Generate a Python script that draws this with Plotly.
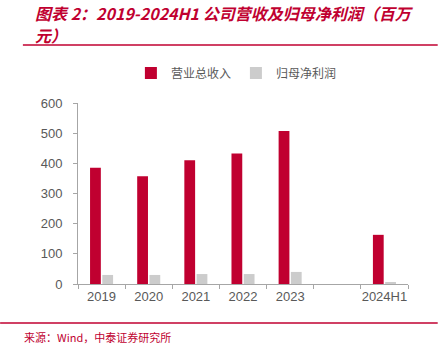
import plotly.graph_objects as go

categories = ["2019", "2020", "2021", "2022", "2023", " ", "2024H1"]
revenue = [385, 357, 410, 433, 507, None, 163]
net_profit = [30, 30, 33, 33, 40, None, 5]
yticks = [0, 100, 200, 300, 400, 500, 600]

RED = "#C00030"
GRAY = "#CCCCCC"
TXT = "#595959"
CJK = "Noto Sans CJK SC"

fig = go.Figure()
fig.add_trace(go.Bar(x=categories, y=revenue, name="营业总收入", marker_color=RED, marker_line_width=0))
fig.add_trace(go.Bar(x=categories, y=net_profit, name="归母净利润", marker_color=GRAY, marker_line_width=0))

fig.update_layout(
    width=440, height=353,
    margin=dict(l=78, r=32, t=103, b=69),
    paper_bgcolor="white", plot_bgcolor="white",
    barmode="group", bargap=0.48, bargroupgap=0.12,
    font=dict(family="Liberation Sans, Arial", size=12, color=TXT),
    showlegend=True,
    legend=dict(orientation="h", x=0.48, xanchor="center", y=1.166, yanchor="middle",
                font=dict(family=CJK, size=12, color=TXT),
                itemwidth=30, tracegroupgap=0, traceorder="normal"),
    xaxis=dict(type="category", showline=True, linecolor="#A6A6A6", linewidth=1,
               ticks="outside", tickson="boundaries", ticklen=4, tickcolor="#A6A6A6",
               showgrid=False, tickangle=0, tickfont=dict(size=13, color=TXT)),
    yaxis=dict(range=[0, 600], tickvals=yticks, showline=True, linecolor="#A6A6A6",
               linewidth=1, ticks="outside", ticklen=4, tickcolor="#A6A6A6",
               ticklabelstandoff=8,
               showgrid=False, zeroline=False, tickfont=dict(size=13, color=TXT)),
)

fig.add_annotation(
    xref="paper", yref="paper", x=-0.137, y=1.495, xanchor="left", yanchor="middle",
    align="left", showarrow=False,
    text="<b><i>图表 2：2019-2024H1 公司营收及归母净利润（百万</i></b>",
    font=dict(family=CJK, size=16, color=RED),
)
fig.add_annotation(
    xref="paper", yref="paper", x=-0.137, y=1.375, xanchor="left", yanchor="middle",
    align="left", showarrow=False,
    text="<b><i>元）</i></b>",
    font=dict(family=CJK, size=16, color=RED),
)
fig.add_annotation(
    xref="paper", yref="paper", x=-0.17, y=-0.293, xanchor="left", yanchor="middle",
    showarrow=False, text="来源：Wind，中泰证券研究所",
    font=dict(family=CJK, size=11, color=RED),
)
fig.add_shape(type="line", xref="paper", yref="paper", x0=-0.167, x1=1.09, y0=1.32, y1=1.32,
              line=dict(color=RED, width=1.5))
fig.add_shape(type="line", xref="paper", yref="paper", x0=-0.236, x1=1.09, y0=-0.215, y1=-0.215,
              line=dict(color=RED, width=1.5))

fig.write_html("out.html")
